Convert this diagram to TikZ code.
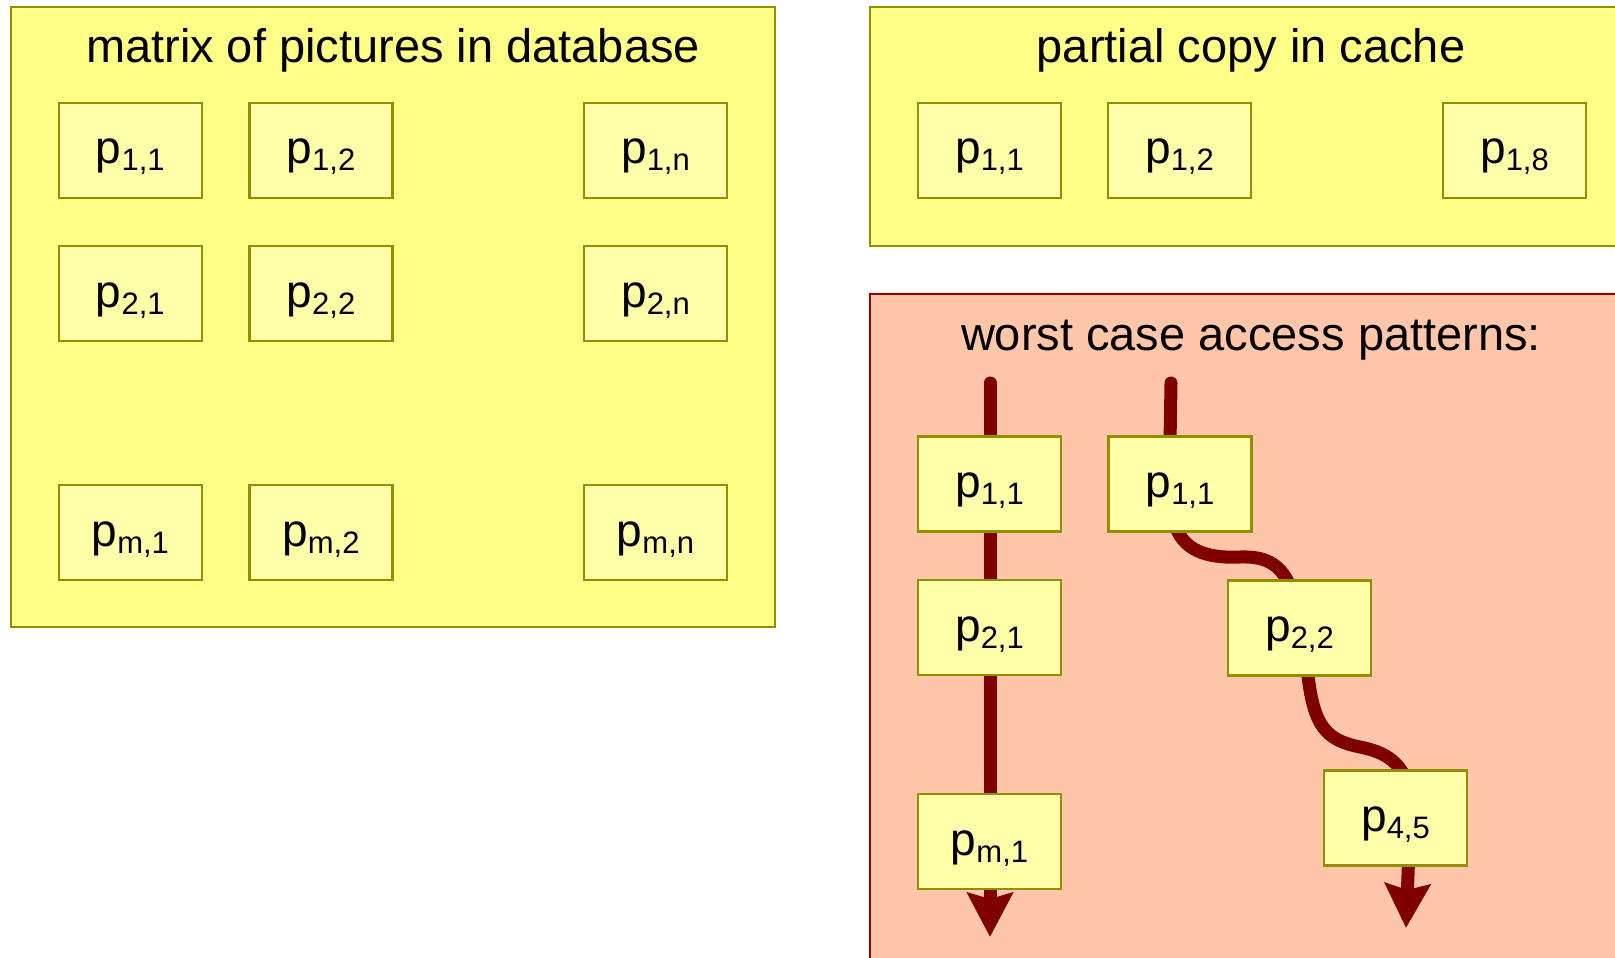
\documentclass[tikz,border=0pt]{standalone}
\usepackage{fontspec}
\setmainfont{Liberation Sans}
\usetikzlibrary{arrows.meta}
\definecolor{bigyellow}{HTML}{FFFF88}
\definecolor{smallyellow}{HTML}{FFFFAA}
\definecolor{olive}{HTML}{8F8F00}
\definecolor{salmon}{HTML}{FFC6AA}
\definecolor{redborder}{HTML}{9A0000}
\definecolor{arrowred}{HTML}{800000}
\newcommand\pp[1]{p\raisebox{-7pt}{\fontsize{31}{31}\selectfont #1}}
\tikzset{
  panel/.style={draw=olive, fill=bigyellow, line width=2pt},
  redpanel/.style={draw=redborder, fill=salmon, line width=2pt},
  title/.style={anchor=base, font=\fontsize{47}{47}\selectfont, inner sep=0pt},
  pbox/.style={draw=olive, fill=smallyellow, line width=2.5pt, minimum width=143pt,
    minimum height=95pt, inner sep=0pt, text height=40pt, text depth=13pt,
    font=\fontsize{46}{46}\selectfont},
  flow/.style={draw=arrowred, line width=13pt, line cap=round,
    -{Stealth[length=44pt, width=45pt, inset=6pt]}}
}
\begin{document}
\begin{tikzpicture}[x=1pt, y=-1pt]
\useasboundingbox (0,0) rectangle (1615,958);
\clip (0,0) rectangle (1615,958);
% panels
\draw[panel] (11.3,7.2) rectangle (774.6,627);
\draw[panel] (870,7.2) rectangle (1640,246.2);
\draw[redpanel] (870,293.6) rectangle (1640,980);
\node[title] (t1) at (393,63) {matrix of pictures in database};
\node[title] (t2) at (1251,63) {partial copy in cache};
\node[title] (t3) at (1251,350) {worst case access patterns:};
% database matrix
\node[pbox] (d11) at (130.3,150.4) {\pp{1,1}};
\node[pbox] (d12) at (320.9,150.4) {\pp{1,2}};
\node[pbox] (d1n) at (655.5,150.4) {\pp{1,n}};
\node[pbox] (d21) at (130.3,293.6) {\pp{2,1}};
\node[pbox] (d22) at (320.9,293.6) {\pp{2,2}};
\node[pbox] (d2n) at (655.5,293.6) {\pp{2,n}};
\node[pbox] (dm1) at (130.3,532.5) {\pp{m,1}};
\node[pbox] (dm2) at (320.9,532.5) {\pp{m,2}};
\node[pbox] (dmn) at (655.5,532.5) {\pp{m,n}};
% cache
\node[pbox] (c11) at (989.5,150.4) {\pp{1,1}};
\node[pbox] (c12) at (1179.5,150.4) {\pp{1,2}};
\node[pbox] (c18) at (1514.5,150.4) {\pp{1,8}};
% access patterns
\coordinate (s1) at (990,383);
\coordinate (e1) at (990,937);
\coordinate (s2) at (1171,383);
\coordinate (e2) at (1406,928);
\draw[flow] (s1) -- (e1);
\draw[flow] (s2) .. controls (1170,450) and (1168,500) .. (1175,525)
  .. controls (1185,555) and (1215,558) .. (1240,557)
  .. controls (1268,556) and (1285,565) .. (1295,600)
  .. controls (1305,640) and (1305,660) .. (1308,676)
  .. controls (1314,725) and (1325,740) .. (1360,747)
  .. controls (1385,752) and (1404,762) .. (1411,795)
  -- (e2);
\node[pbox] (a11) at (989.5,484) {\pp{1,1}};
\node[pbox] (a21) at (989.5,627.5) {\pp{2,1}};
\node[pbox] (am1) at (989.5,841.5) {\pp{m,1}};
\node[pbox] (b11) at (1180,484) {\pp{1,1}};
\node[pbox] (b22) at (1299.5,628) {\pp{2,2}};
\node[pbox] (b45) at (1395.5,818) {\pp{4,5}};
\end{tikzpicture}
\end{document}
